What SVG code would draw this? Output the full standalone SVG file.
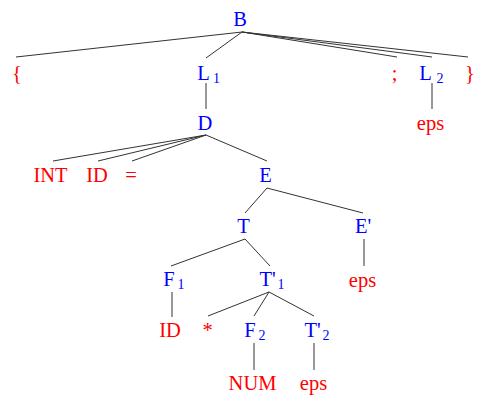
<svg xmlns="http://www.w3.org/2000/svg" width="484" height="400" viewBox="0 0 484 400">
  <style>
    .nt { fill: #0000ff; text-anchor: middle; }
    .t { fill: #ff0000; text-anchor: middle; }
    .sub { fill: #0000ff; font-size: 14px; }
    #edges line { stroke: #333; stroke-width: 1; fill: none; }
  </style>
  <rect width="484" height="400" fill="#ffffff"/>

  <!-- parse tree edges -->
  <g id="edges">
    <line x1="242" y1="32" x2="16" y2="57"/>
    <line x1="242" y1="32" x2="206" y2="58"/>
    <line x1="242" y1="32" x2="397" y2="57"/>
    <line x1="242" y1="32" x2="432" y2="57"/>
    <line x1="242" y1="32" x2="468" y2="57"/>
    <line x1="206" y1="83" x2="206" y2="109"/>
    <line x1="432" y1="83" x2="432" y2="109"/>
    <line x1="206" y1="135" x2="53" y2="161"/>
    <line x1="206" y1="135" x2="98" y2="161"/>
    <line x1="206" y1="135" x2="132" y2="161"/>
    <line x1="206" y1="135" x2="267" y2="161"/>
    <line x1="267" y1="188" x2="245" y2="213"/>
    <line x1="267" y1="188" x2="363" y2="213"/>
    <line x1="245" y1="239" x2="171" y2="266"/>
    <line x1="245" y1="239" x2="270" y2="266"/>
    <line x1="364" y1="239" x2="364" y2="266"/>
    <line x1="172" y1="292" x2="172" y2="317"/>
    <line x1="269" y1="292" x2="208" y2="316"/>
    <line x1="269" y1="292" x2="254" y2="316"/>
    <line x1="269" y1="292" x2="314" y2="316"/>
    <line x1="254" y1="343" x2="254" y2="370"/>
    <line x1="314" y1="343" x2="314" y2="370"/>
  </g>

  <!-- nodes -->
  <g id="nodes" font-family="Liberation Serif, serif" font-size="20.5">
  <g id="B"><text class="nt" x="240" y="26">B</text></g>
  <g id="lbrace"><text class="t" x="17" y="80">{</text></g>
  <g id="L1"><text class="nt" x="203.5" y="80">L</text><text class="sub" x="213" y="83">1</text></g>
  <g id="semi"><text class="t" x="394.5" y="80">;</text></g>
  <g id="L2"><text class="nt" x="425.5" y="80">L</text><text class="sub" x="436.5" y="83">2</text></g>
  <g id="rbrace"><text class="t" x="470" y="80">}</text></g>

  <g id="D"><text class="nt" x="205" y="130">D</text></g>
  <g id="eps_L2"><text class="t" x="430.5" y="130">eps</text></g>

  <g id="INT"><text class="t" x="50.5" y="182">INT</text></g>
  <g id="ID_1"><text class="t" x="97" y="182">ID</text></g>
  <g id="assign"><text class="t" x="131" y="182">=</text></g>
  <g id="E"><text class="nt" x="265.5" y="182">E</text></g>

  <g id="T"><text class="nt" x="243.5" y="233">T</text></g>
  <g id="Ep"><text class="nt" x="363" y="233">E'</text></g>

  <g id="F1"><text class="nt" x="169" y="286">F</text><text class="sub" x="177.5" y="289">1</text></g>
  <g id="Tp1"><text class="nt" x="267.5" y="286">T'</text><text class="sub" x="277.5" y="289">1</text></g>
  <g id="eps_Ep"><text class="t" x="362.5" y="287">eps</text></g>

  <g id="ID_2"><text class="t" x="170" y="337">ID</text></g>
  <g id="star"><text class="t" x="207.5" y="337">*</text></g>
  <g id="F2"><text class="nt" x="250" y="337">F</text><text class="sub" x="258.5" y="340">2</text></g>
  <g id="Tp2"><text class="nt" x="312.5" y="337">T'</text><text class="sub" x="322.5" y="340">2</text></g>

  <g id="NUM"><text class="t" x="252.5" y="390">NUM</text></g>
  <g id="eps_Tp2"><text class="t" x="313.5" y="390">eps</text></g>
  </g>
</svg>
